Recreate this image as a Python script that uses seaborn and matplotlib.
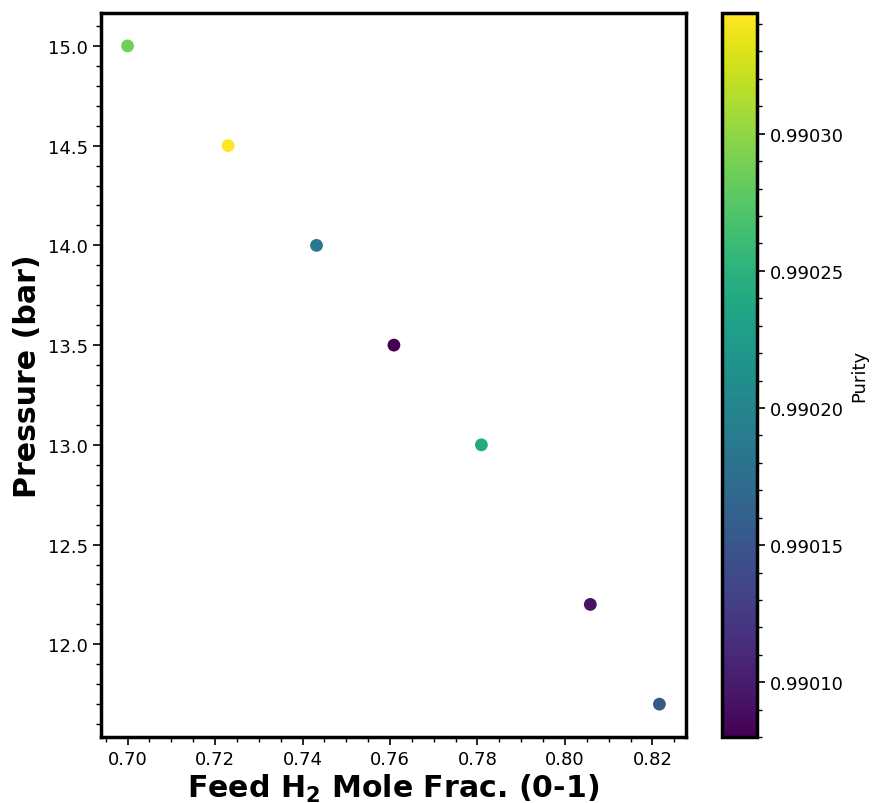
import matplotlib
matplotlib.use("Agg")
import matplotlib.pyplot as plt
import seaborn as sns
import numpy as np
import pandas as pd
from matplotlib.colors import Normalize
from matplotlib.cm import ScalarMappable
from matplotlib.ticker import AutoMinorLocator

feed_h2 = [0.700, 0.723, 0.7432, 0.7609, 0.7809, 0.8058, 0.8216]
pressure = [15.0, 14.5, 14.0, 13.5, 13.0, 12.2, 11.7]
purity = [0.990287, 0.990344, 0.990185, 0.990080, 0.990240, 0.990093, 0.990152]

df = pd.DataFrame({"x": feed_h2, "y": pressure, "purity": purity})

plt.rcParams['font.family'] = ['DejaVu Sans']
fig = plt.figure(figsize=(8.75, 8.04), dpi=100)
ax = fig.add_axes([0.1154, 0.082, 0.6686, 0.9006])
cax = fig.add_axes([0.8251, 0.082, 0.0400, 0.9006])

vmin, vmax = min(purity), max(purity)
norm = Normalize(vmin=vmin, vmax=vmax)
sns.scatterplot(data=df, x="x", y="y", hue="purity", palette="viridis",
                hue_norm=norm, legend=False, s=85, edgecolor="none", ax=ax)

ax.set_xlabel("Feed H$_\\mathbf{2}$ Mole Frac. (0-1)", fontsize=21.6, fontweight="bold", labelpad=2.5)
ax.set_ylabel("Pressure (bar)", fontsize=21.6, fontweight="bold")
ax.set_xticks([0.70, 0.72, 0.74, 0.76, 0.78, 0.80, 0.82])
ax.set_yticks([12.0, 12.5, 13.0, 13.5, 14.0, 14.5, 15.0])
ax.minorticks_on()
ax.tick_params(axis="both", which="major", labelsize=13, length=6, width=1.2)
ax.tick_params(axis="both", which="minor", length=3.5, width=1.0)
for sp in ax.spines.values():
    sp.set_linewidth(2.5)

sm = ScalarMappable(norm=norm, cmap="viridis")
sm.set_array([])
cb = fig.colorbar(sm, cax=cax)
cb.set_ticks([0.99010, 0.99015, 0.99020, 0.99025, 0.99030])
cb.set_ticklabels(["0.99010", "0.99015", "0.99020", "0.99025", "0.99030"])
cb.ax.yaxis.set_minor_locator(AutoMinorLocator(5))
cb.ax.tick_params(which="major", labelsize=13, length=6, width=1.2)
cb.ax.tick_params(which="minor", length=3.5, width=1.0)
cb.outline.set_linewidth(2.5)
cb.set_label("Purity", fontsize=13)

fig.savefig("out.png", dpi=100)
